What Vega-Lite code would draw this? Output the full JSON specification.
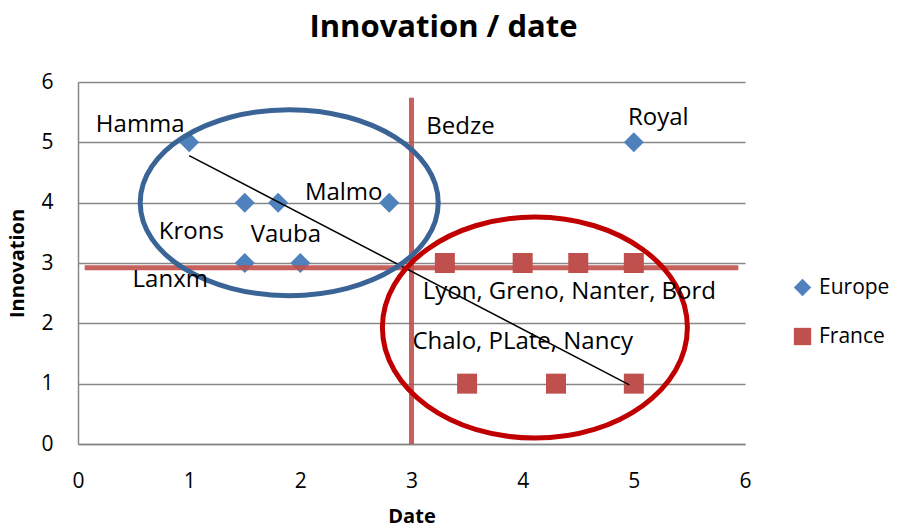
{
  "$schema": "https://vega.github.io/schema/vega-lite/v6.json",
  "width": 667,
  "height": 362,
  "autosize": "none",
  "padding": {"left": 78, "top": 82, "right": 152, "bottom": 84},
  "background": "white",
  "title": {"text": "Innovation / date", "font": "Open Sans", "fontSize": 31, "fontWeight": "bold", "color": "black", "anchor": "middle", "dx": 32, "offset": 27},
  "config": {
    "view": {"stroke": null},
    "axis": {"labelFont": "Open Sans", "labelFontSize": 21, "labelColor": "black", "labelFlush": false, "titleFont": "Open Sans", "titleFontSize": 20, "titleFontWeight": "bold", "titleColor": "black", "ticks": false, "domainColor": "#868686", "domainWidth": 1.5, "gridColor": "#868686", "gridWidth": 1.5, "format": "d"}
  },
  "datasets": {
    "pts": [
      {"series": "Europe", "date": 1, "innovation": 5},
      {"series": "Europe", "date": 1.5, "innovation": 4},
      {"series": "Europe", "date": 1.8, "innovation": 4},
      {"series": "Europe", "date": 2.8, "innovation": 4},
      {"series": "Europe", "date": 1.5, "innovation": 3},
      {"series": "Europe", "date": 2, "innovation": 3},
      {"series": "Europe", "date": 5, "innovation": 5},
      {"series": "France", "date": 3.3, "innovation": 3},
      {"series": "France", "date": 4, "innovation": 3},
      {"series": "France", "date": 4.5, "innovation": 3},
      {"series": "France", "date": 5, "innovation": 3},
      {"series": "France", "date": 3.5, "innovation": 1},
      {"series": "France", "date": 4.3, "innovation": 1},
      {"series": "France", "date": 5, "innovation": 1}
    ],
    "labels": [
      {"label": "Hamma", "date": 0.56, "innovation": 5.29},
      {"label": "Bedze", "date": 3.44, "innovation": 5.26},
      {"label": "Royal", "date": 5.22, "innovation": 5.41},
      {"label": "Malmo", "date": 2.39, "innovation": 4.16},
      {"label": "Krons", "date": 1.02, "innovation": 3.52},
      {"label": "Vauba", "date": 1.87, "innovation": 3.47},
      {"label": "Lanxm", "date": 0.83, "innovation": 2.72},
      {"label": "Lyon, Greno, Nanter, Bord", "date": 4.42, "innovation": 2.52},
      {"label": "Chalo, PLate, Nancy", "date": 4.0, "innovation": 1.69}
    ],
    "redlines": [
      {"x": 3, "x2": 3, "y": 0, "y2": 5.74},
      {"x": 0.06, "x2": 5.94, "y": 2.92, "y2": 2.92}
    ],
    "trend": [
      {"x": 1.0, "x2": 4.96, "y": 4.78, "y2": 0.98}
    ],
    "blueEllipse": [{"x": 1.9, "y": 4.0}],
    "redEllipse": [{"x": 4.11, "y": 1.93}]
  },
  "layer": [
    {
      "data": {"name": "pts"},
      "mark": {"type": "point", "filled": true, "opacity": 1, "size": 400},
      "encoding": {
        "x": {"field": "date", "type": "quantitative", "scale": {"domain": [0, 6], "nice": false}, "axis": {"title": "Date", "values": [0, 1, 2, 3, 4, 5, 6], "grid": false, "labelPadding": 26, "titlePadding": 15}},
        "y": {"field": "innovation", "type": "quantitative", "scale": {"domain": [0, 6], "nice": false}, "axis": {"title": "Innovation", "values": [0, 1, 2, 3, 4, 5, 6], "grid": true, "labelPadding": 25, "titlePadding": 13}},
        "color": {"field": "series", "type": "nominal", "scale": {"domain": ["Europe", "France"], "range": ["#4F81BD", "#C0504D"]}, "legend": {"title": null, "orient": "none", "legendX": 714, "legendY": 195, "labelFont": "Open Sans", "labelFontSize": 21, "labelColor": "black", "symbolSize": 300, "rowPadding": 27, "labelOffset": 6}},
        "shape": {"field": "series", "type": "nominal", "scale": {"domain": ["Europe", "France"], "range": ["diamond", "square"]}}
      }
    },
    {
      "data": {"name": "redlines"},
      "mark": {"type": "rule", "color": "#C0504D", "strokeWidth": 5, "opacity": 0.9},
      "encoding": {
        "x": {"field": "x", "type": "quantitative"},
        "x2": {"field": "x2"},
        "y": {"field": "y", "type": "quantitative"},
        "y2": {"field": "y2"}
      }
    },
    {
      "data": {"name": "trend"},
      "mark": {"type": "rule", "color": "black", "strokeWidth": 1.5},
      "encoding": {
        "x": {"field": "x", "type": "quantitative"},
        "x2": {"field": "x2"},
        "y": {"field": "y", "type": "quantitative"},
        "y2": {"field": "y2"}
      }
    },
    {
      "data": {"name": "blueEllipse"},
      "mark": {"type": "point", "filled": false, "stroke": "#3A6496", "strokeWidth": 5, "opacity": 1, "size": 88804, "shape": "M-1,0C-1,-0.3447,-0.5523,-0.624,0,-0.624C0.5523,-0.624,1,-0.3447,1,0C1,0.3447,0.5523,0.624,0,0.624C-0.5523,0.624,-1,0.3447,-1,0Z"},
      "encoding": {
        "x": {"field": "x", "type": "quantitative"},
        "y": {"field": "y", "type": "quantitative"}
      }
    },
    {
      "data": {"name": "redEllipse"},
      "mark": {"type": "point", "filled": false, "stroke": "#C00000", "strokeWidth": 5, "opacity": 1, "size": 93025, "shape": "M-1,0C-1,-0.4002,-0.5523,-0.7246,0,-0.7246C0.5523,-0.7246,1,-0.4002,1,0C1,0.4002,0.5523,0.7246,0,0.7246C-0.5523,0.7246,-1,0.4002,-1,0Z"},
      "encoding": {
        "x": {"field": "x", "type": "quantitative"},
        "y": {"field": "y", "type": "quantitative"}
      }
    },
    {
      "data": {"name": "labels"},
      "mark": {"type": "text", "font": "Open Sans", "fontSize": 24, "color": "black", "align": "center", "baseline": "middle"},
      "encoding": {
        "x": {"field": "date", "type": "quantitative"},
        "y": {"field": "innovation", "type": "quantitative"},
        "text": {"field": "label"}
      }
    }
  ]
}
